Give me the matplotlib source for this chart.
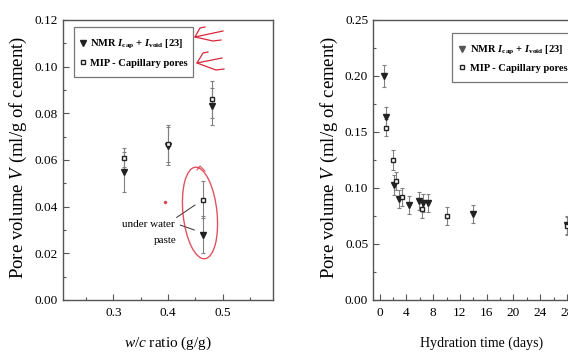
import matplotlib
matplotlib.use("Agg")
import matplotlib.pyplot as plt
from matplotlib.patches import Ellipse, Rectangle
from matplotlib.lines import Line2D

plt.rcParams["font.family"] = ["Liberation Serif", "DejaVu Serif"]
plt.rcParams["mathtext.fontset"] = "custom"
plt.rcParams["mathtext.rm"] = "Liberation Serif"
plt.rcParams["mathtext.it"] = "Liberation Serif:italic"
plt.rcParams["mathtext.bf"] = "Liberation Serif:italic:bold"
plt.rcParams["mathtext.sf"] = "Liberation Serif:bold"

# ---- left panel: pore volume vs w/c ratio ----
wc_nmr = [0.32, 0.40, 0.48]
v_nmr_wc = [0.055, 0.066, 0.083]
e_nmr_wc = [0.0085, 0.008, 0.008]
wc_mip = [0.32, 0.40, 0.48]
v_mip_wc = [0.061, 0.067, 0.086]
e_mip_wc = [0.004, 0.008, 0.008]
# under-water paste
wc_uw = [0.464]
v_nmr_uw = [0.028]
v_mip_uw = [0.043]
e_uw = [0.008]

# ---- right panel: pore volume vs hydration time ----
t_nmr = [0.6, 1.0, 2.1, 2.9, 4.35, 5.9, 6.5, 7.25, 14, 28]
v_nmr_t = [0.200, 0.163, 0.103, 0.090, 0.085, 0.088, 0.087, 0.087, 0.077, 0.067]
e_nmr_t = [0.0095, 0.009, 0.009, 0.008, 0.008, 0.008, 0.008, 0.008, 0.008, 0.008]
t_mip = [1.0, 2.0, 2.45, 3.4, 6.4, 10, 28]
v_mip_t = [0.154, 0.125, 0.106, 0.092, 0.081, 0.075, 0.066]
e_mip_t = [0.008, 0.0085, 0.008, 0.008, 0.008, 0.008, 0.008]

nmr_label = r"NMR $\mathbf{I}_{\mathsf{cap}}$ + $\mathbf{I}_{\mathsf{void}}$ [23]"
mip_label = "MIP - Capillary pores"
ylab = r"Pore volume $V$ (ml/g of cement)"

W, H = 568, 354
fig = plt.figure(figsize=(W / 100, H / 100), dpi=100)

spine_c = "#555555"
err_c = "#808080"
frame_c = "#777777"


def style_axes(ax):
    for s in ax.spines.values():
        s.set_color(spine_c)
        s.set_linewidth(1.0)
    ax.tick_params(which="both", direction="in", top=False, right=False,
                   color=spine_c, labelsize=9.5)
    ax.tick_params(which="major", length=4, width=0.8)
    ax.tick_params(which="minor", length=2.5, width=0.8)
    ax.tick_params(axis="x", pad=5)


def series(ax, x, y, e, marker, face, size):
    ax.errorbar(x, y, yerr=e, fmt="none", ecolor=err_c, elinewidth=0.8,
                capsize=1.6, capthick=0.8, zorder=2)
    ax.plot(x, y, linestyle="none", marker=marker, markersize=size,
            markerfacecolor=face, markeredgecolor="#222222",
            markeredgewidth=1.0, zorder=3)


def px(x0, y0, x1, y1):
    return [x0 / W, 1 - y1 / H, (x1 - x0) / W, (y1 - y0) / H]


def place_labels(ax, x0, x1, ylab_x, xlab_y, ylab_y=160):
    w = x1 - x0
    ax.yaxis.set_label_coords((ylab_x - x0) / w, (300 - ylab_y) / 280)
    ax.yaxis.label.set_va("center")
    ax.xaxis.set_label_coords(((x0 + x1) / 2 - x0) / w, (300 - xlab_y) / 280)
    ax.xaxis.label.set_va("center")


# left axes
ax1 = fig.add_axes(px(63, 20, 273, 300))
style_axes(ax1)
series(ax1, wc_nmr, v_nmr_wc, e_nmr_wc, "v", "#222222", 4.5)
series(ax1, wc_mip, v_mip_wc, e_mip_wc, "s", "white", 3.5)
series(ax1, wc_uw, v_nmr_uw, e_uw, "v", "#222222", 4.5)
series(ax1, wc_uw, v_mip_uw, e_uw, "s", "white", 3.5)
ax1.set_xlim(0.208, 0.592)
ax1.set_ylim(0, 0.12)
ax1.set_xticks([0.3, 0.4, 0.5])
ax1.set_xticks([0.25, 0.35, 0.45, 0.55], minor=True)
ax1.set_yticks([0.00, 0.02, 0.04, 0.06, 0.08, 0.10, 0.12])
ax1.set_yticks([0.01, 0.03, 0.05, 0.07, 0.09, 0.11], minor=True)
ax1.set_yticklabels([f"{v:.2f}" for v in ax1.get_yticks()])
ax1.set_xlabel(r"$w/c$ ratio (g/g)", fontsize=11)
ax1.set_ylabel(ylab, fontsize=13.5)
place_labels(ax1, 63, 273, 18, 343, 157)

ax1.text(0.3644, 0.0323, "under water", fontsize=8, ha="center", va="center")
ax1.text(0.3954, 0.0254, "paste", fontsize=8, ha="center", va="center")
ax1.plot([0.4159, 0.4494], [0.0354, 0.0407], color="#333333", lw=0.7)
ax1.plot([0.4225, 0.4481], [0.0321, 0.0300], color="#333333", lw=0.7)

leg_kw = dict(frameon=False, handlelength=0.6, borderpad=0, borderaxespad=0,
              labelspacing=0.65, loc="center left",
              prop={"family": "Liberation Serif", "weight": "bold", "size": 7.6})


def legend_handles(tri_color):
    return [
        Line2D([], [], linestyle="none", marker="v", markersize=4.5,
               markerfacecolor=tri_color, markeredgecolor=tri_color),
        Line2D([], [], linestyle="none", marker="s", markersize=3.5,
               markerfacecolor="white", markeredgecolor="#222222"),
    ]


ax1.legend(legend_handles("#222222"), [nmr_label, mip_label],
           bbox_to_anchor=(79.6 / W, 1 - 53 / H),
           bbox_transform=fig.transFigure, handletextpad=0.4, **leg_kw)

# right axes (runs past the right edge of the canvas)
ax2 = fig.add_axes(px(373, 20, 591, 300))
style_axes(ax2)
series(ax2, t_nmr, v_nmr_t, e_nmr_t, "v", "#222222", 4.5)
series(ax2, t_mip, v_mip_t, e_mip_t, "s", "white", 3.5)
ax2.set_xlim(-1, 31.6)
ax2.set_ylim(0, 0.25)
ax2.set_xticks([0, 4, 8, 12, 16, 20, 24, 28])
ax2.set_xticks([2, 6, 10, 14, 18, 22, 26, 30], minor=True)
ax2.set_yticks([0.00, 0.05, 0.10, 0.15, 0.20, 0.25])
ax2.set_yticks([0.025, 0.075, 0.125, 0.175, 0.225], minor=True)
ax2.set_yticklabels([f"{v:.2f}" for v in ax2.get_yticks()])
ax2.set_xlabel("Hydration time (days)", fontsize=10)
ax2.set_ylabel(ylab, fontsize=13.5)
place_labels(ax2, 373, 591, 329, 343, 157)

ax2.legend(legend_handles("#555555"), [nmr_label, mip_label],
           bbox_to_anchor=(458.9 / W, 1 - 58.5 / H),
           bbox_transform=fig.transFigure, handletextpad=0.45, **leg_kw)

# overlay in pixel units: legend frames and the red hand markup
ov = fig.add_axes([0, 0, 1, 1], zorder=10)
ov.set_xlim(0, W)
ov.set_ylim(H, 0)
ov.axis("off")
ov.patch.set_alpha(0)
for (bx0, by0, bx1, by1) in [(74, 27, 193, 77), (452, 33, 600, 82)]:
    ov.add_patch(Rectangle((bx0, by0), bx1 - bx0, by1 - by0, fill=False,
                           edgecolor=frame_c, lw=0.9))

red = "#d8283a"
for tip, up, mid, low in [
    ((195, 37), (200, 28), (223, 31), (213, 41)),
    ((197, 63), (203, 53), (222, 58), (216, 70)),
]:
    ov.plot([up[0] + 5, up[0], tip[0], mid[0]],
            [up[1] - 1, up[1], tip[1], mid[1]], color=red, lw=0.9)
    ov.plot([tip[0], low[0], low[0] + 8], [tip[1], low[1], low[1] - 1],
            color=red, lw=0.9)
ov.add_patch(Ellipse((200, 213), 34, 92, angle=-6, fill=False,
                     edgecolor=red, lw=1.0, alpha=0.8))
ov.plot([197, 200, 205], [170, 166, 171], color=red, lw=0.8, alpha=0.8)
ov.plot([165], [202], marker="o", markersize=1.5, color=red, alpha=0.8)

fig.savefig("out.png", dpi=100)
